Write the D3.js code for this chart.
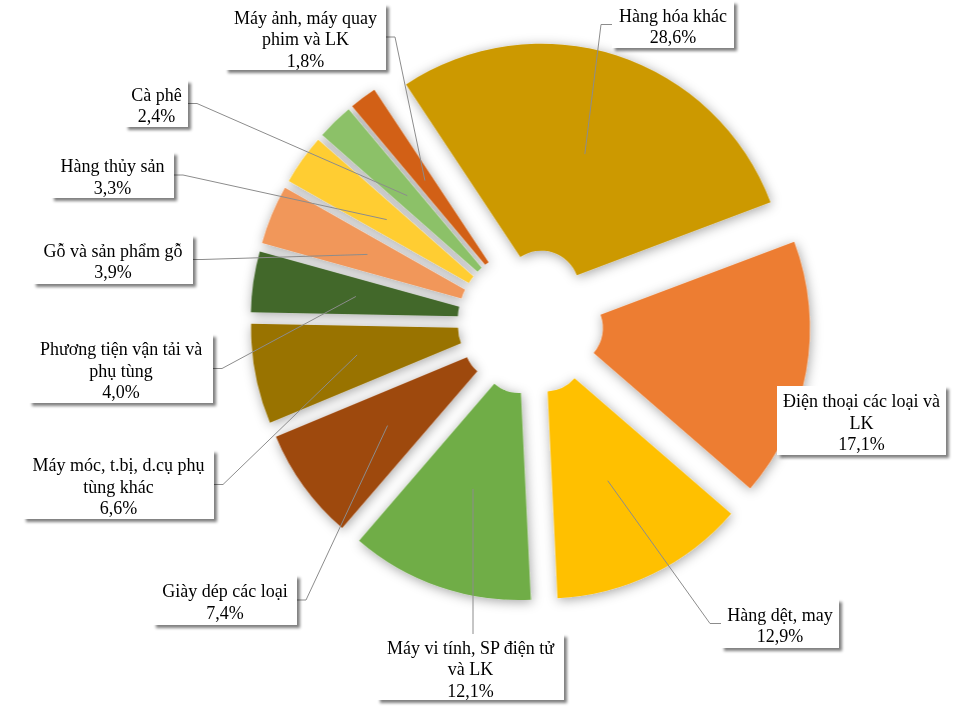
<!DOCTYPE html>
<html><head><meta charset="utf-8">
<script src="https://cdn.jsdelivr.net/npm/d3@7"></script>
<style>body{margin:0;background:#fff} svg{display:block}</style>
</head><body>
<svg id="chart" width="960" height="725"></svg>
<script>
// ---- data ----
const categories = [
  "Hàng hóa khác",
  "Điện thoại các loại và LK",
  "Hàng dệt, may",
  "Máy vi tính, SP điện tử và LK",
  "Giày dép các loại",
  "Máy móc, t.bị, d.cụ phụ tùng khác",
  "Phương tiện vận tải và phụ tùng",
  "Gỗ và sản phẩm gỗ",
  "Hàng thủy sản",
  "Cà phê",
  "Máy ảnh, máy quay phim và LK"
];
const shares = [28.6, 17.1, 12.9, 12.1, 7.4, 6.6, 4.0, 3.9, 3.3, 2.4, 1.8];

// ---- styles / layout ----
const colors = ["#CC9900","#ED7D31","#FFC000","#70AD47","#9E480E","#997300",
                "#43682B","#F1975A","#FFCD33","#8CC168","#D26014"];
const geo = {cx: 530.5, cy: 322, rOuter: 245, rInner: 38, explode: 35, startDeg: -33.5};
// label boxes: x, y, w, h, side where the leader leaves the box, wrap width
const labelBoxes = [
  {x: 612, y: 1,   w: 122, h: 47, side: "left",  wrap: 200},
  {x: 777, y: 386, w: 169, h: 69, side: "none",  wrap: 168},
  {x: 721, y: 599, w: 118, h: 49, side: "left",  wrap: 200},
  {x: 377, y: 634, w: 187, h: 66, side: "top",   wrap: 180},
  {x: 153, y: 575, w: 144, h: 50, side: "right", wrap: 200},
  {x: 23,  y: 450, w: 191, h: 69, side: "right", wrap: 185},
  {x: 29,  y: 334, w: 184, h: 69, side: "right", wrap: 180},
  {x: 33,  y: 235, w: 160, h: 49, side: "right", wrap: 200},
  {x: 51,  y: 152, w: 123, h: 46, side: "right", wrap: 200},
  {x: 125, y: 80,  w: 63,  h: 47, side: "right", wrap: 200},
  {x: 225, y: 4,   w: 161, h: 66, side: "right", wrap: 150}
];
const fontFamily = "'Liberation Serif','Times New Roman',serif";
const fontSize = 18, lineH = 21.5;

const svg = d3.select("#chart");
const defs = svg.append("defs");

// slice shadow
const fs = defs.append("filter").attr("id","sliceShadow")
  .attr("x","-30%").attr("y","-30%").attr("width","160%").attr("height","160%");
fs.append("feGaussianBlur").attr("in","SourceAlpha").attr("stdDeviation",6).attr("result","b");
fs.append("feOffset").attr("in","b").attr("dx",1).attr("dy",2).attr("result","o");
fs.append("feFlood").attr("flood-color","#000").attr("flood-opacity",0.36).attr("result","f");
fs.append("feComposite").attr("in","f").attr("in2","o").attr("operator","in").attr("result","s");
const fm = fs.append("feMerge");
fm.append("feMergeNode").attr("in","s");
fm.append("feMergeNode").attr("in","SourceGraphic");

// box shadow
const fb = defs.append("filter").attr("id","boxShadow")
  .attr("x","-20%").attr("y","-30%").attr("width","140%").attr("height","160%");
fb.append("feGaussianBlur").attr("in","SourceAlpha").attr("stdDeviation",1.8).attr("result","b");
fb.append("feOffset").attr("in","b").attr("dx",3).attr("dy",3).attr("result","o");
fb.append("feFlood").attr("flood-color","#000").attr("flood-opacity",0.5).attr("result","f");
fb.append("feComposite").attr("in","f").attr("in2","o").attr("operator","in").attr("result","s");
const fm2 = fb.append("feMerge");
fm2.append("feMergeNode").attr("in","s");
fm2.append("feMergeNode").attr("in","SourceGraphic");

const start = geo.startDeg * Math.PI / 180;
const pie = d3.pie().sort(null).value(d => d).startAngle(start).endAngle(start + 2 * Math.PI);
const arcs = pie(shares);
const arc = d3.arc().innerRadius(geo.rInner).outerRadius(geo.rOuter);

function offset(a) {
  const m = (a.startAngle + a.endAngle) / 2;
  return [geo.explode * Math.sin(m), -geo.explode * Math.cos(m)];
}

const gPie = svg.append("g").attr("transform", `translate(${geo.cx},${geo.cy})`)
  .attr("filter","url(#sliceShadow)");
gPie.selectAll("path").data(arcs).join("path")
  .attr("d", arc)
  .attr("fill", (d, i) => colors[i])
  .attr("transform", d => { const o = offset(d); return `translate(${o[0]},${o[1]})`; });

// leader lines
const gLines = svg.append("g");
arcs.forEach((a, i) => {
  const b = labelBoxes[i];
  if (b.side === "none") return;
  const c = arc.centroid(a), o = offset(a);
  const tx = geo.cx + c[0] + o[0], ty = geo.cy + c[1] + o[1];
  let pts;
  if (b.side === "right") {
    const ay = b.y + b.h / 2;
    pts = [[b.x + b.w, ay], [b.x + b.w + 9, ay], [tx, ty]];
  } else if (b.side === "left") {
    const ay = b.y + b.h / 2;
    pts = [[b.x, ay], [b.x - 11, ay], [tx, ty]];
  } else {
    pts = [[tx, b.y], [tx, ty]];
  }
  gLines.append("path").attr("d", d3.line()(pts))
    .attr("fill","none").attr("stroke","#8c8c8c").attr("stroke-width",1);
});

// labels
const fmt = v => d3.format(".1f")(v).replace(".", ",") + "%";
const measure = svg.append("text").attr("font-family", fontFamily).attr("font-size", fontSize)
  .attr("visibility","hidden");
function wrap(str, maxW) {
  const words = str.split(" ");
  const lines = [];
  let cur = "";
  words.forEach(w => {
    const test = cur ? cur + " " + w : w;
    measure.text(test);
    if (measure.node().getComputedTextLength() > maxW && cur) {
      lines.push(cur); cur = w;
    } else cur = test;
  });
  if (cur) lines.push(cur);
  return lines;
}

const gLab = svg.append("g");
categories.forEach((name, i) => {
  const b = labelBoxes[i];
  const lines = wrap(name, b.wrap).concat([fmt(shares[i])]);
  const g = gLab.append("g");
  g.append("rect").attr("x", b.x).attr("y", b.y).attr("width", b.w).attr("height", b.h)
    .attr("fill","#fff").attr("filter","url(#boxShadow)");
  const cx = b.x + b.w / 2, cy = b.y + b.h / 2 + 2;
  const t = g.append("text").attr("font-family", fontFamily).attr("font-size", fontSize)
    .attr("fill","#000").attr("text-anchor","middle");
  lines.forEach((ln, k) => {
    t.append("tspan").attr("x", cx)
      .attr("y", cy + (k - (lines.length - 1) / 2) * lineH)
      .attr("dominant-baseline","central")
      .text(ln);
  });
});
measure.remove();
</script>
</body></html>
